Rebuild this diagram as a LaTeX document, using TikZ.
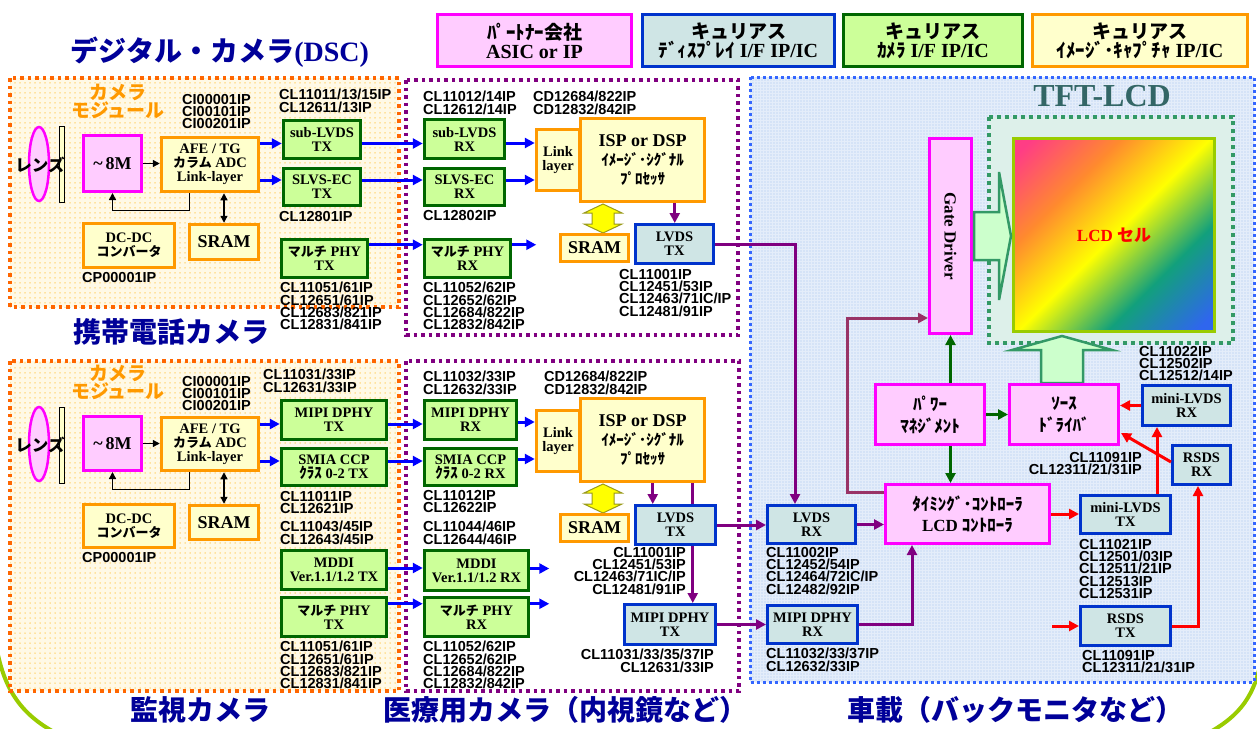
\documentclass[tikz,border=0pt]{standalone}
\usepackage{fontspec}
\setmainfont{Liberation Serif}
\newfontfamily\jp{Noto Sans CJK JP}
\newfontfamily\lab{Liberation Sans}
\usetikzlibrary{arrows.meta,calc,patterns.meta}

\definecolor{magB}{HTML}{FF00FF}
\definecolor{pinkF}{HTML}{FFCCFF}
\definecolor{bluB}{HTML}{0033CC}
\definecolor{bluF}{HTML}{CFE5E5}
\definecolor{grnB}{HTML}{006600}
\definecolor{grnF}{HTML}{CCFF99}
\definecolor{orgB}{HTML}{FF9900}
\definecolor{ylwF}{HTML}{FFFFCC}
\definecolor{navyT}{HTML}{000099}
\definecolor{modT}{HTML}{FF9900}
\definecolor{zoneO}{HTML}{FF6600}
\definecolor{zoneOF}{HTML}{FFF9E6}
\definecolor{zoneODot}{HTML}{FFCC55}
\definecolor{zoneP}{HTML}{800080}
\definecolor{zoneB}{HTML}{3366FF}
\definecolor{zoneBF}{HTML}{E4EDFA}
\definecolor{zoneBDot}{HTML}{A6C2F0}
\definecolor{panelB}{HTML}{339966}
\definecolor{panelF}{HTML}{DDF0EA}
\definecolor{arrB}{HTML}{0000FF}
\definecolor{arrP}{HTML}{800080}
\definecolor{arrG}{HTML}{006600}
\definecolor{arrR}{HTML}{FF0000}
\definecolor{arrM}{HTML}{993366}
\definecolor{bigF}{HTML}{CCFFCC}
\definecolor{tftT}{HTML}{336666}
\definecolor{cellB}{HTML}{99CC00}
\definecolor{lcdA}{HTML}{FF3D85}
\definecolor{lcdB}{HTML}{FF8A2E}
\definecolor{lcdC}{HTML}{FFFF00}
\definecolor{lcdD}{HTML}{12A07C}
\definecolor{lcdE}{HTML}{2F66EE}
\definecolor{dblF}{HTML}{FFFF00}
\definecolor{dblB}{HTML}{99991A}
\definecolor{outerG}{HTML}{99CC00}

\pgfdeclarehorizontalshading{lcdgrad}{100bp}{color(0bp)=(lcdA); color(18bp)=(lcdA); color(34bp)=(lcdB); color(50bp)=(lcdC); color(66bp)=(lcdD); color(82bp)=(lcdE); color(100bp)=(lcdE)}

% box from outer corners (x1,y1)-(x2,y2)
\newcommand{\blk}[7]{%
  \pgfmathsetmacro\bkw{#5-#3-3}\pgfmathsetmacro\bkh{#6-#4-3}%
  \pgfmathsetmacro\bkx{(#3+#5)/2}\pgfmathsetmacro\bky{(#4+#6)/2}%
  \node[#2, minimum width=\bkw pt, minimum height=\bkh pt] (#1) at (\bkx,\bky) {#7};}
\newcommand{\jb}[1]{{\jp\fontsize{13}{14}\selectfont #1}}
\newcommand{\jh}[1]{{\jp\fontsize{15}{14}\selectfont #1}}
\newcommand{\jl}[1]{{\jp\fontsize{19}{19}\selectfont #1}}
\newcommand{\dblarrow}[2]{\filldraw[fill=dblF, draw=dblB, line width=1pt, line join=miter] (#1,#2) -- ++(19,9) -- ++(-8,0) -- ++(0,11) -- ++(8,0) -- ++(-19,9) -- ++(-19,-9) -- ++(8,0) -- ++(0,-11) -- ++(-8,0) -- cycle;}

\tikzset{
  box/.style={inner sep=0pt, align=center, line width=3pt, font=\bfseries\fontsize{14.5}{14}\selectfont},
  pinkbox/.style={box, draw=magB, fill=pinkF},
  bluebox/.style={box, draw=bluB, fill=bluF},
  greenbox/.style={box, draw=grnB, fill=grnF, line width=3.5pt},
  orangebox/.style={box, draw=orgB, fill=ylwF, line width=3.5pt},
  bigtxt/.style={font=\bfseries\fontsize{18}{18}\selectfont},
  isptxt/.style={font=\bfseries\fontsize{18}{19}\selectfont},
  kanabox/.style={font=\jp\bfseries\fontsize{17}{22}\selectfont},
  legend/.style={font=\bfseries\fontsize{20}{19}\selectfont},
  ip/.style={inner sep=0pt, align=left, anchor=north west, font=\lab\bfseries\fontsize{14.5}{12.3}\selectfont},
  ipr/.style={ip, align=right, anchor=north east},
  title/.style={inner sep=0pt, text=navyT, font=\jp\bfseries\fontsize{28}{30}\selectfont},
  modtxt/.style={inner sep=0pt, align=center, text=modT, font=\jp\bfseries\fontsize{19}{18}\selectfont},
  lenstxt/.style={inner sep=0pt, font=\jp\bfseries\fontsize{16.5}{16}\selectfont},
  lens/.style={draw=magB, fill=pinkF, line width=2.5pt},
  filt/.style={draw=black, fill=ylwF, line width=0.8pt},
  bigtip/.style={-{Triangle[length=10pt,width=10pt]}},
  barrow/.style={draw=arrB, line width=3pt, bigtip},
  parrow/.style={draw=arrP, line width=3pt, bigtip},
  garrow/.style={draw=arrG, line width=3pt, bigtip},
  rarrow/.style={draw=arrR, line width=3pt, bigtip},
  marrow/.style={draw=arrM, line width=3pt, bigtip},
  karrow/.style={draw=black, line width=1.3pt, -{Triangle[length=7pt,width=7pt]}},
  kdarrow/.style={draw=black, line width=1.3pt, {Triangle[length=7pt,width=7pt]}-{Triangle[length=7pt,width=7pt]}},
  orgzone/.style={draw=zoneO, line width=3.5pt, dash pattern=on 3.5pt off 4pt},
  purzone/.style={draw=zoneP, line width=3.5pt, dash pattern=on 3.5pt off 4pt},
  bluzone/.style={draw=zoneB, line width=3pt, dash pattern=on 3pt off 3pt},
  panzone/.style={draw=panelB, line width=4pt, dash pattern=on 4pt off 4pt},
  hollow/.style={fill=bigF, draw=panelB, line width=2.5pt, line join=miter},
}

\begin{document}
\begin{tikzpicture}[x=1pt, y=-1pt]
\useasboundingbox (0,0) rectangle (1257,728);
\fill[white] (0,0) rectangle (1257,728);

% outer rim
\draw[outerG, line width=4pt] (-2,655) .. controls (8,700) and (30,722) .. (70,740);
\draw[outerG, line width=4pt] (1259,670) .. controls (1250,705) and (1232,722) .. (1195,740);

% zones
\fill[zoneOF] (10,78) rectangle (399,307);
\fill[pattern={Dots[distance=5pt,radius=0.75pt]}, pattern color=zoneODot] (10,78) rectangle (399,307);
\draw[orgzone] (10,78) rectangle (399,307);
\fill[zoneOF] (10,361) rectangle (399,691);
\fill[pattern={Dots[distance=5pt,radius=0.75pt]}, pattern color=zoneODot] (10,361) rectangle (399,691);
\draw[orgzone] (10,361) rectangle (399,691);
\draw[purzone, fill=white] (406,80) rectangle (738,335);
\draw[purzone, fill=white] (406,361) rectangle (739,691);
\fill[zoneBF] (750,77) rectangle (1254,682);
\fill[pattern={Dots[distance=3pt,radius=0.6pt]}, pattern color=zoneBDot] (750,77) rectangle (1254,682);
\draw[bluzone] (750,77) rectangle (1254,682);
\fill[panelF] (989,117) rectangle (1233,343);
\draw[panzone] (989,117) rectangle (1233,343);

% titles
\node[title] (t1) at (220,52) {デジタル・カメラ{\rmfamily(DSC)}};
\node[title] (t2) at (171,332) {携帯電話カメラ};
\node[title] (t3) at (200,710) {監視カメラ};
\node[title] (t4) at (565,710) {医療用カメラ（内視鏡など）};
\node[title] (t5) at (1015,710) {車載（バックモニタなど）};
\node[inner sep=0pt, text=tftT, font=\bfseries\fontsize{32}{32}\selectfont] (tft) at (1102,96) {TFT-LCD};

% legend
\blk{lgp}{pinkbox, legend, line width=3.5pt}{436}{13}{633}{68}{\jl{ﾊﾟｰﾄﾅｰ会社}\\ASIC or IP}
\blk{lgb}{bluebox, legend, line width=3.5pt}{641}{13}{836}{68}{\jl{キュリアス}\\\jl{ﾃﾞｨｽﾌﾟﾚｲ} I/F IP/IC}
\blk{lgg}{greenbox, legend}{842}{13}{1024}{68}{\jl{キュリアス}\\\jl{ｶﾒﾗ} I/F IP/IC}
\blk{lgo}{orangebox, legend}{1031}{13}{1249}{68}{\jl{キュリアス}\\\jl{ｲﾒｰｼﾞ･ｷｬﾌﾟﾁｬ} IP/IC}

% ---------- upper camera module ----------
\draw[lens] (39,164) ellipse [x radius=10, y radius=37];
\draw[filt] (59,126) rectangle (64,202);
\node[lenstxt] (lensa) at (40,165) {レンズ};
\node[modtxt] (moda) at (118,101) {カメラ\\モジュール};
\blk{m8a}{pinkbox, bigtxt}{82}{134}{143}{193}{\textasciitilde\,8M}
\blk{afea}{orangebox}{160}{136}{260}{193}{AFE / TG\\\jb{カラム} ADC\\Link-layer}
\blk{srama}{orangebox, bigtxt}{188}{223}{260}{261}{SRAM}
\blk{dcdca}{orangebox}{82}{222}{176}{269}{DC-DC\\\jb{コンバータ}}
\blk{subtx}{greenbox}{282}{119}{362}{160}{sub-LVDS\\TX}
\blk{slvstx}{greenbox}{282}{167}{362}{207}{SLVS-EC\\TX}
\blk{mphytxa}{greenbox}{280}{238}{369}{279}{\jb{マルチ} PHY\\TX}

% upper processor side
\blk{subrx}{greenbox}{423}{118}{506}{160}{sub-LVDS\\RX}
\blk{slvsrx}{greenbox}{423}{167}{506}{207}{SLVS-EC\\RX}
\blk{mphyrxa}{greenbox}{423}{238}{512}{279}{\jb{マルチ} PHY\\RX}
\blk{linka}{orangebox}{535}{128}{581}{192}{Link\\layer}
\blk{ispa}{orangebox, isptxt}{579}{117}{706}{203}{ISP or DSP\\\jh{ｲﾒｰｼﾞ･ｼｸﾞﾅﾙ}\\\jh{ﾌﾟﾛｾｯｻ}}
\dblarrow{603}{204}
\blk{sramb}{orangebox, bigtxt}{559}{233}{630}{263}{SRAM}
\blk{lvdstxa}{bluebox}{634}{223}{715}{265}{LVDS\\TX}

% ---------- lower camera module ----------
\draw[lens] (39,444) ellipse [x radius=10, y radius=37];
\draw[filt] (59,407) rectangle (64,483);
\node[lenstxt] (lensb) at (40,445) {レンズ};
\node[modtxt] (modb) at (118,382) {カメラ\\モジュール};
\blk{m8b}{pinkbox, bigtxt}{82}{415}{143}{472}{\textasciitilde\,8M}
\blk{afeb}{orangebox}{160}{416}{260}{472}{AFE / TG\\\jb{カラム} ADC\\Link-layer}
\blk{sramd}{orangebox, bigtxt}{188}{504}{260}{541}{SRAM}
\blk{dcdcb}{orangebox}{82}{503}{176}{549}{DC-DC\\\jb{コンバータ}}
\blk{mipitxa}{greenbox}{280}{399}{388}{441}{MIPI DPHY\\TX}
\blk{smiatx}{greenbox}{280}{447}{388}{487}{SMIA CCP\\\jh{ｸﾗｽ} 0-2 TX}
\blk{mdditx}{greenbox}{280}{549}{388}{591}{MDDI\\Ver.1.1/1.2 TX}
\blk{mphytxb}{greenbox}{280}{596}{388}{638}{\jb{マルチ} PHY\\TX}

% lower processor side
\blk{mipirxb}{greenbox}{423}{399}{518}{441}{MIPI DPHY\\RX}
\blk{smiarx}{greenbox}{423}{447}{518}{487}{SMIA CCP\\\jh{ｸﾗｽ} 0-2 RX}
\blk{mddirx}{greenbox}{423}{549}{530}{592}{MDDI\\Ver.1.1/1.2 RX}
\blk{mphyrxb}{greenbox}{423}{596}{530}{638}{\jb{マルチ} PHY\\RX}
\blk{linkb}{orangebox}{535}{409}{581}{473}{Link\\layer}
\blk{ispb}{orangebox, isptxt}{579}{397}{706}{483}{ISP or DSP\\\jh{ｲﾒｰｼﾞ･ｼｸﾞﾅﾙ}\\\jh{ﾌﾟﾛｾｯｻ}}
\dblarrow{603}{484}
\blk{sramc}{orangebox, bigtxt}{559}{513}{630}{543}{SRAM}
\blk{mipitx}{bluebox}{623}{603}{717}{646}{MIPI DPHY\\TX}
\coordinate (ib2) at ($(ispb.south west)+(114,0)$);
\draw[parrow] (ib2) -- (ib2 |- mipitx.north);
\blk{lvdstxb}{bluebox}{634}{504}{717}{546}{LVDS\\TX}

% ---------- display side ----------
\blk{gate}{pinkbox}{928}{137}{973}{335}{}
\node[rotate=-90, inner sep=0pt, font=\bfseries\fontsize{17}{17}\selectfont] (gatet) at (gate.center) {Gate Driver};
\shade[shading=lcdgrad, shading angle=-45] (1013,138) rectangle (1215,332);
\blk{lcd}{draw=cellB, line width=3pt, inner sep=0pt, font=\bfseries\fontsize{17}{17}\selectfont, text=arrR}{1012}{137}{1216}{333}{LCD {\jp セル}}
\filldraw[hollow] (974,212) -- (999,212) -- (999,172) -- (1011,236) -- (999,300) -- (999,260) -- (974,260) -- cycle;
\filldraw[hollow] (1041,383) -- (1041,350) -- (1012,350) -- (1062,336) -- (1112,350) -- (1083,350) -- (1083,383) -- cycle;
\blk{power}{pinkbox, kanabox}{874}{383}{986}{446}{ﾊﾟﾜｰ\\ﾏﾈｼﾞﾒﾝﾄ}
\blk{source}{pinkbox, kanabox}{1008}{383}{1120}{446}{ｿｰｽ\\ﾄﾞﾗｲﾊﾞ}
\blk{mlvdsrx}{bluebox}{1141}{384}{1232}{427}{mini-LVDS\\RX}
\blk{rsdsrx}{bluebox}{1171}{444}{1232}{486}{RSDS\\RX}
\blk{timing}{pinkbox, kanabox, font=\jp\bfseries\fontsize{17}{21}\selectfont}{884}{483}{1051}{545}{ﾀｲﾐﾝｸﾞ･ｺﾝﾄﾛｰﾗ\\{\rmfamily LCD} ｺﾝﾄﾛｰﾗ}
\blk{mlvdstx}{bluebox}{1079}{494}{1172}{535}{mini-LVDS\\TX}
\blk{rsdstx}{bluebox}{1079}{605}{1172}{647}{RSDS\\TX}
\blk{lvdsrx}{bluebox}{766}{504}{857}{545}{LVDS\\RX}
\blk{mipirx2}{bluebox}{766}{604}{859}{645}{MIPI DPHY\\RX}

% ---------- IP numbers ----------
\node[ip] (l1) at (182,94) {CI00001IP\\CI00101IP\\CI00201IP};
\node[ip] (l2) at (279,89) {CL11011/13/15IP\\CL12611/13IP};
\node[ip] (l3) at (279,211) {CL12801IP};
\node[ip] (l4) at (280,282) {CL11051/61IP\\CL12651/61IP\\CL12683/821IP\\CL12831/841IP};
\node[ip] (l5) at (82,272) {CP00001IP};
\node[ip] (l6) at (423,91) {CL11012/14IP\\CL12612/14IP};
\node[ip] (l7) at (533,91) {CD12684/822IP\\CD12832/842IP};
\node[ip] (l8) at (423,210) {CL12802IP};
\node[ip] (l9) at (423,282) {CL11052/62IP\\CL12652/62IP\\CL12684/822IP\\CL12832/842IP};
\node[ip] (l10) at (619,269) {CL11001IP\\CL12451/53IP\\CL12463/71IC/IP\\CL12481/91IP};
\node[ip] (l11) at (1139,346) {CL11022IP\\CL12502IP\\CL12512/14IP};
\node[ipr] (l12) at (1142,452) {CL11091IP\\CL12311/21/31IP};
\node[ip] (l13) at (1079,539) {CL11021IP\\CL12501/03IP\\CL12511/21IP\\CL12513IP\\CL12531IP};
\node[ip] (l14) at (1082,650) {CL11091IP\\CL12311/21/31IP};
\node[ip] (l15) at (766,547) {CL11002IP\\CL12452/54IP\\CL12464/72IC/IP\\CL12482/92IP};
\node[ip] (l16) at (766,648) {CL11032/33/37IP\\CL12632/33IP};
\node[ip] (l17) at (423,371) {CL11032/33IP\\CL12632/33IP};
\node[ip] (l18) at (544,371) {CD12684/822IP\\CD12832/842IP};
\node[ip] (l19) at (423,490) {CL11012IP\\CL12622IP};
\node[ip] (l20) at (423,521) {CL11044/46IP\\CL12644/46IP};
\node[ip] (l21) at (423,641) {CL11052/62IP\\CL12652/62IP\\CL12684/822IP\\CL12832/842IP};
\node[ipr] (l22) at (686,547) {CL11001IP\\CL12451/53IP\\CL12463/71IC/IP\\CL12481/91IP};
\node[ipr] (l23) at (714,649) {CL11031/33/35/37IP\\CL12631/33IP};
\node[ip] (l24) at (182,376) {CI00001IP\\CI00101IP\\CI00201IP};
\node[ip] (l25) at (263,369) {CL11031/33IP\\CL12631/33IP};
\node[ip] (l26) at (280,491) {CL11011IP\\CL12621IP};
\node[ip] (l27) at (280,521) {CL11043/45IP\\CL12643/45IP};
\node[ip] (l28) at (280,641) {CL11051/61IP\\CL12651/61IP\\CL12683/821IP\\CL12831/841IP};
\node[ip] (l29) at (82,552) {CP00001IP};

% ---------- connectors: upper ----------
\draw[karrow] (m8a.east) -- (m8a.east -| afea.west);
\draw[karrow] ($(afea.south west)+(30,0)$) -- ++(0,17) -| (m8a.south);
\draw[kdarrow] (srama.north |- afea.south) -- (srama.north);
\draw[barrow] ($(subtx.west -| afea.east)+(0,4)$) -- ($(subtx.west)+(0,4)$);
\draw[barrow] ($(slvstx.west -| afea.east)+(0,-7)$) -- ($(slvstx.west)+(0,-7)$);
\draw[barrow] ($(subtx.east)+(0,4)$) -- ($(subtx.east -| subrx.west)+(0,4)$);
\draw[barrow] ($(slvstx.east)+(0,-7)$) -- ($(slvstx.east -| slvsrx.west)+(0,-7)$);
\draw[barrow] ($(mphytxa.north east)+(0,7)$) -- ($(mphytxa.north east -| mphyrxa.west)+(0,7)$);
\draw[barrow] ($(subrx.east)+(0,4)$) -- ($(subrx.east -| linka.west)+(0,4)$);
\draw[barrow] ($(slvsrx.east)+(0,-7)$) -- ($(slvsrx.east -| linka.west)+(0,-7)$);
\coordinate (enda) at ($(mphyrxa.north east)+(24,7)$);
\draw[barrow] ($(mphyrxa.north east)+(0,7)$) -- (enda);
\coordinate (ia) at ($(ispa.south west)+(96,0)$);
\draw[parrow] (ia) -- (ia |- lvdstxa.north);
\coordinate (va) at ($(lvdsrx.north west)+(29,0)$);
\draw[parrow] (lvdstxa.east) -| (va);

% ---------- connectors: lower ----------
\draw[karrow] (m8b.east) -- (m8b.east -| afeb.west);
\draw[karrow] ($(afeb.south west)+(30,0)$) -- ++(0,17) -| (m8b.south);
\draw[kdarrow] (sramd.north |- afeb.south) -- (sramd.north);
\draw[barrow] ($(mipitxa.west -| afeb.east)+(0,4)$) -- ($(mipitxa.west)+(0,4)$);
\draw[barrow] ($(smiatx.west -| afeb.east)+(0,-6)$) -- ($(smiatx.west)+(0,-6)$);
\draw[barrow] ($(mipitxa.east)+(0,4)$) -- ($(mipitxa.east -| mipirxb.west)+(0,4)$);
\draw[barrow] ($(smiatx.east)+(0,-6)$) -- ($(smiatx.east -| smiarx.west)+(0,-6)$);
\draw[barrow] ($(mdditx.east)+(0,-2)$) -- ($(mdditx.east -| mddirx.west)+(0,-2)$);
\draw[barrow] ($(mphytxb.north east)+(0,8)$) -- ($(mphytxb.north east -| mphyrxb.west)+(0,8)$);
\draw[barrow] ($(mipirxb.east)+(0,2)$) -- ($(mipirxb.east -| linkb.west)+(0,2)$);
\draw[barrow] ($(smiarx.east)+(0,-8)$) -- ($(smiarx.east -| linkb.west)+(0,-8)$);
\coordinate (endb) at ($(mddirx.east)+(19,-2)$);
\draw[barrow] ($(mddirx.east)+(0,-2)$) -- (endb);
\coordinate (endc) at ($(mphyrxb.north east)+(19,8)$);
\draw[barrow] ($(mphyrxb.north east)+(0,8)$) -- (endc);
\coordinate (ib1) at ($(ispb.south west)+(74,0)$);
\draw[parrow] (ib1) -- (ib1 |- lvdstxb.north);
\draw[parrow] (lvdstxb.east) -- (lvdstxb.east -| lvdsrx.west);
\draw[parrow] (mipitx.east) -- (mipitx.east -| mipirx2.west);

% ---------- connectors: display ----------
\draw[parrow] (lvdsrx.east) -- (lvdsrx.east -| timing.west);
\coordinate (mt) at ($(timing.south west)+(28,0)$);
\draw[parrow] (mipirx2.east) -| (mt);
\coordinate (ts) at ($(timing.north west)+(0,9)$);
\coordinate (tg) at ($(gate.west)+(-81,82)$);
\draw[marrow] (ts) -| (tg) -- (tg -| gate.west);
\draw[garrow] (power.east) -- (power.east -| source.west);
\coordinate (gp) at (power.north -| gate.south);
\draw[garrow] (gp) -- (gate.south);
\coordinate (gq) at (power.south -| gate.south);
\draw[garrow] (gq) -- (gq |- timing.north);
\draw[rarrow] (mlvdsrx.west) -- (mlvdsrx.west -| source.east);
\draw[rarrow] ($(rsdsrx.west)+(0,-3)$) -- ($(source.south east)+(1,-13)$);
\draw[rarrow] (timing.east) -- (timing.east -| mlvdstx.west);
\coordinate (mr) at ($(mlvdstx.north east)+(-15,0)$);
\draw[rarrow] (mr) -- (mr |- mlvdsrx.south);
\coordinate (rsin) at ($(rsdstx.west)+(-27,0)$);
\draw[rarrow] (rsin) -- (rsdstx.west);
\coordinate (rv) at ($(rsdsrx.south west)+(27,0)$);
\draw[rarrow] (rsdstx.east) -| (rv);

\end{tikzpicture}
\end{document}
